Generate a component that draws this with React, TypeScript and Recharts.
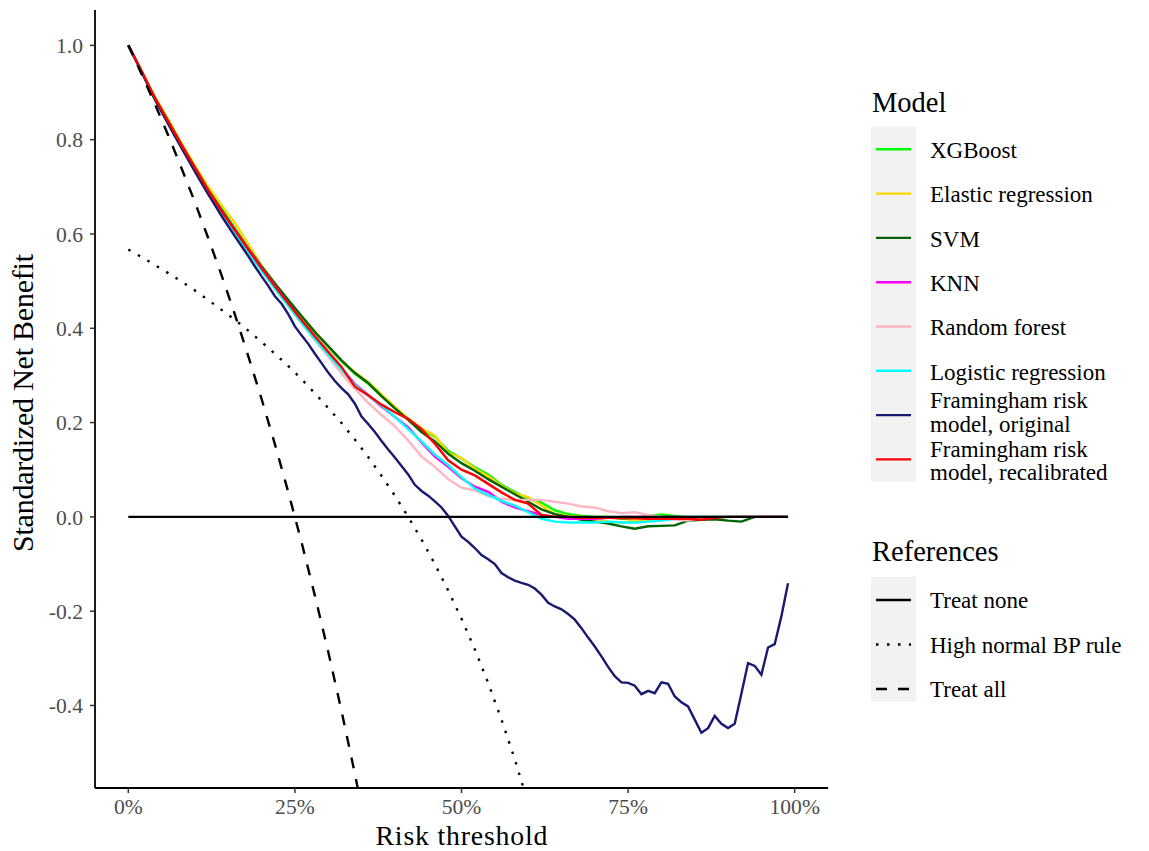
import React from 'react';
import { LineChart, Line, XAxis, YAxis } from 'recharts';

// Risk thresholds (shared by the machine-learning models)
const thresholds = [
  0, 0.02, 0.04, 0.06, 0.08, 0.1, 0.12, 0.14, 0.16, 0.18, 0.2, 0.22, 0.24, 0.26, 0.28, 0.3, 0.32, 0.34, 0.36, 0.38,
  0.4, 0.42, 0.44, 0.46, 0.48, 0.5, 0.52, 0.54, 0.56, 0.58, 0.6, 0.62, 0.64, 0.66, 0.68, 0.7, 0.72, 0.74, 0.76, 0.78,
  0.8, 0.82, 0.84, 0.86, 0.88, 0.9, 0.92, 0.94, 0.96, 0.98, 0.99,
];

const xgboost = [
  1.0, 0.945, 0.889, 0.84, 0.79, 0.742, 0.696, 0.653, 0.612, 0.571, 0.531, 0.494, 0.46, 0.424, 0.392, 0.36, 0.33, 0.304, 0.282, 0.256,
  0.232, 0.208, 0.186, 0.17, 0.14, 0.124, 0.105, 0.09, 0.068, 0.053, 0.038, 0.03, 0.014, 0.006, 0.002, 0.0, 0.0, -0.004, -0.003, 0.002,
  0.005, 0.002, 0.0, 0.0, 0.0, 0.0, 0.0, 0.0, 0.0, 0.0, 0.0,
];
const elastic = [
  1.0, 0.946, 0.891, 0.843, 0.793, 0.745, 0.7, 0.661, 0.623, 0.579, 0.533, 0.495, 0.458, 0.425, 0.393, 0.361, 0.331, 0.307, 0.286, 0.26,
  0.234, 0.208, 0.188, 0.172, 0.136, 0.125, 0.102, 0.086, 0.066, 0.05, 0.042, 0.024, 0.006, 0.002, 0.0, -0.004, -0.01, -0.012, -0.008, -0.006,
  -0.006, -0.004, -0.002, 0.0, 0.0, 0.0, 0.0, 0.0, 0.0, 0.0, 0.0,
];
const svm = [
  1.0, 0.944, 0.888, 0.839, 0.789, 0.741, 0.693, 0.651, 0.609, 0.569, 0.531, 0.495, 0.46, 0.426, 0.392, 0.362, 0.332, 0.305, 0.284, 0.256,
  0.23, 0.206, 0.18, 0.16, 0.134, 0.114, 0.098, 0.08, 0.064, 0.048, 0.032, 0.016, 0.006, 0.0, -0.006, -0.01, -0.014, -0.02, -0.025, -0.02,
  -0.019, -0.018, -0.008, -0.006, -0.005, -0.008, -0.01, 0.0, 0.0, 0.0, 0.0,
];
const knn = [
  1.0, 0.944, 0.887, 0.836, 0.786, 0.738, 0.69, 0.648, 0.608, 0.568, 0.528, 0.49, 0.452, 0.416, 0.382, 0.348, 0.314, 0.282, 0.258, 0.234,
  0.212, 0.19, 0.158, 0.128, 0.106, 0.082, 0.064, 0.053, 0.032, 0.02, 0.012, 0.004, 0.0, -0.004, -0.004, -0.004, -0.002, 0.0, 0.0, 0.0,
  0.0, 0.0, 0.0, 0.0, 0.0, 0.0, 0.0, 0.0, 0.0, 0.0, 0.0,
];
const randomForest = [
  1.0, 0.943, 0.886, 0.835, 0.784, 0.736, 0.688, 0.645, 0.604, 0.563, 0.524, 0.486, 0.448, 0.411, 0.375, 0.34, 0.304, 0.272, 0.242, 0.216,
  0.192, 0.162, 0.128, 0.106, 0.08, 0.062, 0.056, 0.044, 0.038, 0.036, 0.036, 0.036, 0.032, 0.028, 0.022, 0.02, 0.012, 0.008, 0.01, 0.004,
  0.0, -0.006, -0.008, -0.002, 0.0, 0.0, 0.0, 0.0, 0.0, 0.0, 0.0,
];
const logistic = [
  1.0, 0.943, 0.885, 0.834, 0.784, 0.734, 0.685, 0.641, 0.6, 0.56, 0.522, 0.484, 0.447, 0.411, 0.377, 0.344, 0.312, 0.28, 0.257, 0.236,
  0.212, 0.186, 0.16, 0.132, 0.11, 0.084, 0.06, 0.046, 0.034, 0.024, 0.01, -0.004, -0.01, -0.012, -0.012, -0.012, -0.01, -0.012, -0.012, -0.01,
  -0.008, -0.004, 0.0, 0.0, 0.0, 0.0, 0.0, 0.0, 0.0, 0.0, 0.0,
];
const framinghamRecal = [
  1.0, 0.945, 0.888, 0.838, 0.788, 0.74, 0.692, 0.648, 0.608, 0.567, 0.527, 0.489, 0.453, 0.417, 0.383, 0.35, 0.318, 0.276, 0.258, 0.238,
  0.222, 0.208, 0.186, 0.155, 0.12, 0.1, 0.088, 0.07, 0.052, 0.036, 0.028, 0.004, 0.0, 0.0, -0.002, -0.002, -0.002, -0.003, -0.003, -0.004,
  -0.004, -0.004, -0.004, -0.006, -0.002, 0.0, 0.0, 0.0, 0.0, 0.0, 0.0,
];

// Framingham original, read at 1% steps
const thresholdsFine = [
  0, 0.01, 0.02, 0.03, 0.04, 0.05, 0.06, 0.07, 0.08, 0.09, 0.1, 0.11, 0.12, 0.13, 0.14, 0.15, 0.16, 0.17, 0.18, 0.19,
  0.2, 0.21, 0.22, 0.23, 0.24, 0.25, 0.26, 0.27, 0.28, 0.29, 0.3, 0.31, 0.32, 0.33, 0.34, 0.35, 0.36, 0.37, 0.38, 0.39,
  0.4, 0.41, 0.42, 0.43, 0.44, 0.45, 0.46, 0.47, 0.48, 0.49, 0.5, 0.51, 0.52, 0.53, 0.54, 0.55, 0.56, 0.57, 0.58, 0.59,
  0.6, 0.61, 0.62, 0.63, 0.64, 0.65, 0.66, 0.67, 0.68, 0.69, 0.7, 0.71, 0.72, 0.73, 0.74, 0.75, 0.76, 0.77, 0.78, 0.79,
  0.8, 0.81, 0.82, 0.83, 0.84, 0.85, 0.86, 0.87, 0.88, 0.89, 0.9, 0.91, 0.92, 0.93, 0.94, 0.95, 0.96, 0.97, 0.98, 0.99,
];
const framinghamOrig = [
  1.0, 0.972, 0.943, 0.914, 0.885, 0.859, 0.833, 0.807, 0.782, 0.757, 0.732, 0.708, 0.684, 0.661, 0.638, 0.616, 0.595, 0.574, 0.553, 0.531,
  0.51, 0.49, 0.468, 0.452, 0.43, 0.404, 0.385, 0.367, 0.346, 0.326, 0.306, 0.288, 0.273, 0.26, 0.24, 0.213, 0.197, 0.18, 0.161, 0.143,
  0.126, 0.108, 0.09, 0.068, 0.055, 0.045, 0.033, 0.02, 0.002, -0.02, -0.042, -0.053, -0.066, -0.081, -0.09, -0.1, -0.119, -0.128, -0.135, -0.14,
  -0.144, -0.152, -0.165, -0.182, -0.19, -0.196, -0.206, -0.218, -0.236, -0.256, -0.275, -0.296, -0.318, -0.338, -0.351, -0.352, -0.358, -0.376, -0.369, -0.374,
  -0.351, -0.354, -0.381, -0.393, -0.402, -0.43, -0.458, -0.448, -0.422, -0.439, -0.448, -0.439, -0.375, -0.31, -0.316, -0.335, -0.277, -0.27, -0.211, -0.141,
];

// Reference strategies
const treatNoneThresholds = [0, 0.99];
const treatNone = [0, 0];
const treatAllThresholds = [0, 0.02, 0.04, 0.06, 0.08, 0.1, 0.12, 0.14, 0.16, 0.18, 0.2, 0.22, 0.24, 0.26, 0.28, 0.3, 0.32, 0.34, 0.36];
const treatAll = [1.0, 0.939, 0.875, 0.809, 0.739, 0.667, 0.591, 0.512, 0.429, 0.341, 0.25, 0.154, 0.053, -0.054, -0.167, -0.286, -0.412, -0.545, -0.688];
const bpThresholds = [
  0, 0.02, 0.04, 0.06, 0.08, 0.1, 0.12, 0.14, 0.16, 0.18, 0.2, 0.22, 0.24, 0.26, 0.28, 0.3, 0.32, 0.34, 0.36, 0.38,
  0.4, 0.42, 0.44, 0.46, 0.48, 0.5, 0.52, 0.54, 0.56, 0.58, 0.6, 0.62,
];
const bpRule = [
  0.567, 0.551, 0.534, 0.517, 0.499, 0.48, 0.46, 0.439, 0.418, 0.395, 0.371, 0.346, 0.32, 0.292, 0.262, 0.231, 0.199, 0.164, 0.127, 0.087,
  0.045, 0.0, -0.048, -0.1, -0.156, -0.216, -0.281, -0.352, -0.43, -0.514, -0.608, -0.71,
];

const xTicks = [0, 0.25, 0.5, 0.75, 1];
const yTicks = [-0.4, -0.2, 0, 0.2, 0.4, 0.6, 0.8, 1.0];

const modelNames = [
  'XGBoost', 'Elastic regression', 'SVM', 'KNN', 'Random forest', 'Logistic regression',
  'Framingham risk\nmodel, original', 'Framingham risk\nmodel, recalibrated',
];
const modelKeys = ['xgboost', 'elastic', 'svm', 'knn', 'rf', 'logistic', 'orig', 'recal'];
const modelColors = ['#00FF00', '#FFD700', '#006400', '#FF00FF', '#FFB6C1', '#00FFFF', '#191970', '#FF0000'];
const refNames = ['Treat none', 'High normal BP rule', 'Treat all'];
const refDashes = ['', '2.5 8.5', '11 11'];

const modelRows = thresholds.map((t, i) => ({
  t,
  xgboost: xgboost[i],
  elastic: elastic[i],
  svm: svm[i],
  knn: knn[i],
  rf: randomForest[i],
  logistic: logistic[i],
  recal: framinghamRecal[i],
}));
const origRows = thresholdsFine.map((t, i) => ({ t, v: framinghamOrig[i] }));
const noneRows = treatNoneThresholds.map((t, i) => ({ t, v: treatNone[i] }));
const allRows = treatAllThresholds.map((t, i) => ({ t, v: treatAll[i] }));
const bpRows = bpThresholds.map((t, i) => ({ t, v: bpRule[i] }));

const FONT = "'Liberation Serif', 'Times New Roman', serif";
const LW = 2.4;

export default function App() {
  const tickStyle = { fill: '#4D4D4D', fontSize: 21.6, fontFamily: FONT };
  const modelRowY = [149.3, 193.6, 237.9, 282.2, 326.5, 370.8, 415.1, 459.4];
  // baselines for the legend labels (two-line labels get two baselines)
  const modelTextY = [[158], [202.3], [246.6], [290.9], [335.2], [379.5], [408, 431.5], [457, 480]];
  const refRowY = [600, 644.5, 689];
  return (
    <div style={{ position: 'absolute', left: 0, top: 0, width: 1149, height: 851, background: '#fff' }}>
      <LineChart
        width={1149}
        height={851}
        data={modelRows}
        margin={{ top: 10, right: 321, bottom: 0, left: 0 }}
      >
        <XAxis
          type="number"
          dataKey="t"
          domain={[-0.05, 1.05]}
          ticks={xTicks}
          interval={0}
          allowDataOverflow
          height={63}
          tickFormatter={(v: number) => `${Math.round(v * 100)}%`}
          tick={tickStyle}
          tickSize={5}
          tickMargin={6}
          tickLine={{ stroke: '#333333', strokeWidth: 1.5 }}
          axisLine={{ stroke: '#000', strokeWidth: 1.8 }}
        />
        <YAxis
          type="number"
          domain={[-0.575, 1.075]}
          ticks={yTicks}
          interval={0}
          allowDataOverflow
          width={95}
          tickFormatter={(v: number) => v.toFixed(1)}
          tick={tickStyle}
          tickSize={5}
          tickMargin={7}
          tickLine={{ stroke: '#333333', strokeWidth: 1.5 }}
          axisLine={{ stroke: '#000', strokeWidth: 1.8 }}
        />
        {modelKeys.slice(0, 6).map((k, i) => (
          <Line key={k} dataKey={k} stroke={modelColors[i]} strokeWidth={LW} dot={false} isAnimationActive={false} type="linear" />
        ))}
        <Line data={origRows} dataKey="v" stroke={modelColors[6]} strokeWidth={LW} dot={false} isAnimationActive={false} type="linear" />
        <Line dataKey="recal" stroke={modelColors[7]} strokeWidth={LW} dot={false} isAnimationActive={false} type="linear" />
        <Line data={noneRows} dataKey="v" stroke="#000" strokeWidth={LW} dot={false} isAnimationActive={false} type="linear" />
        <Line data={bpRows} dataKey="v" stroke="#000" strokeWidth={LW} strokeDasharray={refDashes[1]} dot={false} isAnimationActive={false} type="linear" />
        <Line data={allRows} dataKey="v" stroke="#000" strokeWidth={LW} strokeDasharray={refDashes[2]} dot={false} isAnimationActive={false} type="linear" />
      </LineChart>
      <svg
        width={1149}
        height={851}
        style={{ position: 'absolute', left: 0, top: 0, pointerEvents: 'none' }}
        fontFamily={FONT}
      >
        <text
          transform="translate(33,403) rotate(-90)"
          textAnchor="middle"
          fontSize={30}
          textLength={298}
          lengthAdjust="spacing"
          fill="#000"
        >
          Standardized Net Benefit
        </text>
        <text
          x={461.5}
          y={844.8}
          textAnchor="middle"
          fontSize={27.8}
          textLength={172}
          lengthAdjust="spacing"
          fill="#000"
        >
          Risk threshold
        </text>

        <text x={872} y={111.5} fontSize={28.5} fill="#000">Model</text>
        <rect x={871} y={126.7} width={45} height={355} fill="#F2F2F2" />
        {modelNames.map((name, i) => {
          const y = modelRowY[i];
          const lines = name.split('\n');
          return (
            <g key={name}>
              <line x1={876} x2={911} y1={y} y2={y} stroke={modelColors[i]} strokeWidth={LW} />
              {lines.map((ln, j) => (
                <text key={ln} x={930} y={modelTextY[i][j]} fontSize={23} fill="#000">{ln}</text>
              ))}
            </g>
          );
        })}

        <text x={872} y={561} fontSize={28.5} fill="#000">References</text>
        <rect x={871} y={576.7} width={45} height={125} fill="#F2F2F2" />
        {refNames.map((name, i) => (
          <g key={name}>
            <line
              x1={876}
              x2={911}
              y1={refRowY[i]}
              y2={refRowY[i]}
              stroke="#000"
              strokeWidth={LW}
              strokeDasharray={refDashes[i] || undefined}
            />
            <text x={930} y={refRowY[i] + 8.3} fontSize={23} fill="#000">{name}</text>
          </g>
        ))}
      </svg>
    </div>
  );
}
